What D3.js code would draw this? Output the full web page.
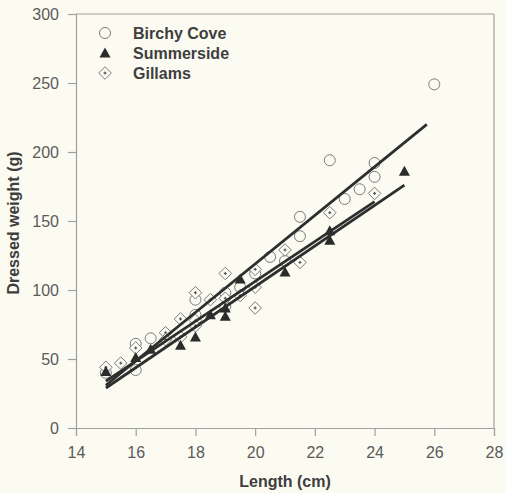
<!DOCTYPE html>
<html>
<head>
<meta charset="utf-8">
<script src="https://cdn.jsdelivr.net/npm/d3@7"></script>
<style>
  body { margin: 0; background: #fcfbf2; }
  svg { display: block; font-family: "Liberation Sans", Arial, sans-serif; }
</style>
</head>
<body>
<script>
// data: [length (cm), dressed weight (g)]
const birchy = [[15,40],[16,61],[16,42],[16.5,65],[18,93],[18,82],[19,98],[19,88],[19.5,102],[20,112],
  [20.5,124],[21,121],[21.5,153],[21.5,139],[22.5,194],[23,166],[23.5,173],[24,192],[24,182],[26,249]];
const summerside = [[15,41],[16,51],[16.5,57],[17.5,60],[18,66],[18.5,82],[19,81],[19,87],[19.5,108],
  [21,113],[22.5,143],[22.5,136],[25,186]];
const gillams = [[15,44],[15.5,47],[16,58],[17,69],[17,64],[17.5,79],[17.5,66],[18,98],[18,78],[18,74],
  [18.5,93],[19,112],[19,94],[19.5,96],[20,115],[20,102],[20,87],[21,129],[21.5,120],[22.5,156],[24,170]];
// fitted lines, endpoints
const birchyFit = [[15,31],[25.75,220]];
const summersideFit = [[15,29],[25,176]];
const gillamsFit = [[15,34],[24,164]];
const seriesNames = ["Birchy Cove", "Summerside", "Gillams"];
const xTicks = [14,16,18,20,22,24,26,28];
const yTicks = [0,50,100,150,200,250,300];

const w = 506, h = 493;
const pLeft = 76, pRight = 494, pTop = 14, pBottom = 428;
const axisCol = "#a0a09e", labelCol = "#5a5a5a", titleCol = "#3e3e3e";

const x = d3.scaleLinear().domain([14, 28]).range([pLeft, pRight]);
const y = d3.scaleLinear().domain([0, 300]).range([pBottom, pTop]);

const svg = d3.select("body").append("svg").attr("width", w).attr("height", h);

// frame top + right
svg.append("line").attr("x1", pLeft).attr("x2", pRight).attr("y1", pTop).attr("y2", pTop)
  .attr("stroke", axisCol).attr("stroke-width", 1.2);
svg.append("line").attr("x1", pRight).attr("x2", pRight).attr("y1", pTop).attr("y2", pBottom)
  .attr("stroke", axisCol).attr("stroke-width", 1.2);

const xAxis = d3.axisBottom(x).tickValues(xTicks).tickSizeOuter(0).tickSize(8).tickPadding(11);
const yAxis = d3.axisLeft(y).tickValues(yTicks).tickSizeOuter(0).tickSize(8).tickPadding(9);

const gx = svg.append("g").attr("transform", "translate(0," + pBottom + ")").call(xAxis);
const gy = svg.append("g").attr("transform", "translate(" + pLeft + ",0)").call(yAxis);
[gx, gy].forEach(g => {
  g.select(".domain").attr("stroke", axisCol).attr("stroke-width", 1.2);
  g.selectAll(".tick line").attr("stroke", axisCol).attr("stroke-width", 1.2);
  g.selectAll(".tick text").attr("fill", labelCol).style("font-size", "16px");
});

svg.append("text").attr("x", 285).attr("y", 487).attr("text-anchor", "middle")
  .attr("fill", titleCol).style("font-size", "16px").style("font-weight", "bold")
  .text("Length (cm)");
svg.append("text").attr("transform", "translate(19,223) rotate(-90)").attr("text-anchor", "middle")
  .attr("fill", titleCol).style("font-size", "16px").style("font-weight", "bold")
  .text("Dressed weight (g)");

// marker drawers
function drawCircle(g) {
  g.append("circle").attr("r", 5.5).attr("fill", "#fcfbf2").attr("stroke", "#7a7a7a").attr("stroke-width", 1);
}
function drawTriangle(g) {
  g.append("path").attr("d", "M0,-5.5L5.5,4.5L-5.5,4.5Z").attr("fill", "#2b2b2b");
}
function drawDiamond(g) {
  g.append("path").attr("d", "M0,-6.3L6.3,0L0,6.3L-6.3,0Z").attr("fill", "#fcfbf2")
    .attr("stroke", "#7a7a7a").attr("stroke-width", 1);
  g.append("path").attr("d", "M-1.5,0H1.5M0,-1.5V1.5").attr("stroke", "#444").attr("stroke-width", 1);
}

function plotSeries(data, draw) {
  svg.append("g").selectAll("g").data(data).enter().append("g")
    .attr("transform", d => "translate(" + x(d[0]) + "," + y(d[1]) + ")")
    .each(function() { draw(d3.select(this)); });
}
plotSeries(birchy, drawCircle);
plotSeries(gillams, drawDiamond);
plotSeries(summerside, drawTriangle);

const line = d3.line().x(d => x(d[0])).y(d => y(d[1]));
[birchyFit, summersideFit, gillamsFit].forEach(f => {
  svg.append("path").attr("d", line(f)).attr("fill", "none")
    .attr("stroke", "#2e2e2e").attr("stroke-width", 2.8);
});

// legend
const drawers = [drawCircle, drawTriangle, drawDiamond];
seriesNames.forEach((name, i) => {
  const row = svg.append("g").attr("transform", "translate(105," + (33 + i * 20) + ")");
  drawers[i](row);
  row.append("text").attr("x", 28).attr("y", 6).attr("fill", titleCol)
    .style("font-size", "16px").style("font-weight", "bold").text(name);
});
</script>
</body>
</html>
